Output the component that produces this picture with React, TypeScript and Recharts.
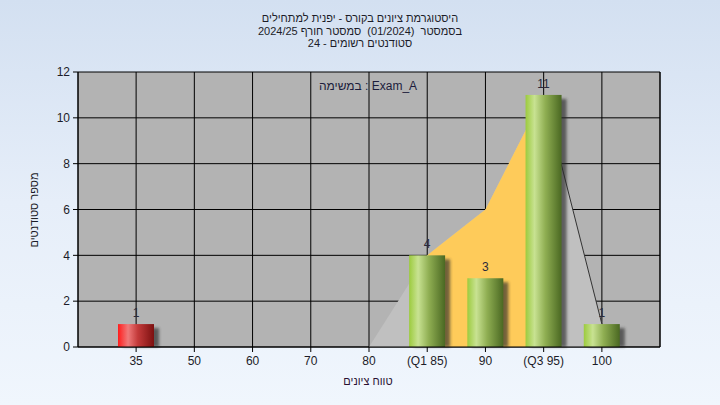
import React from 'react';
import {
  ComposedChart,
  Bar,
  Area,
  XAxis,
  YAxis,
  CartesianGrid,
  LabelList,
} from 'recharts';

const categories = ['35', '50', '60', '70', '80', '(Q1 85)', '90', '(Q3 95)', '100'];
const counts = [1, 0, 0, 0, 0, 4, 3, 11, 1];
const distribution: (number | null)[] = [null, null, null, null, 0, 4, 6, 11, 1];
const interquartile: (number | null)[] = [null, null, null, null, null, 4, 6, 11, null];
const tailLine: (number | null)[] = [null, null, null, null, null, null, null, 11, 1];
const failingCategories = ['35'];
const yTicks = [0, 2, 4, 6, 8, 10, 12];

const titleLines = [
  'היסטוגרמת ציונים בקורס - יפנית למתחילים',
  'בסמסטר  (01/2024)  סמסטר חורף 2024/25',
  'סטודנטים רשומים - 24',
];
const taskLabel = 'במשימה : Exam_A';
const xTitle = 'טווח ציונים';
const yTitle = 'מספר סטודנטים';

const data = categories.map((cat, i) => ({
  cat,
  count: counts[i],
  dist: distribution[i],
  iqr: interquartile[i],
  tail: tailLine[i],
}));

const FONT = 'Liberation Sans, Arial, sans-serif';
const TEXT = '#1c1c28';

function CylinderBar(props: any) {
  const { x, y, width, height, index, payload } = props;
  if (!height || height <= 0) return null;
  const fail = failingCategories.includes(payload?.cat);
  const gid = `barGrad${index}`;
  const fid = `barShadow${index}`;
  const stops = fail
    ? [
        ['0%', '#ff1c1c'],
        ['28%', '#ef7a7a'],
        ['55%', '#c33a3a'],
        ['100%', '#7c1010'],
      ]
    : [
        ['0%', '#9ccb3e'],
        ['25%', '#c8e292'],
        ['55%', '#8fae52'],
        ['100%', '#4a6822'],
      ];
  return (
    <g>
      <defs>
        <linearGradient id={gid} x1="0" y1="0" x2="1" y2="0">
          {stops.map(([o, c]) => (
            <stop key={o} offset={o} stopColor={c} />
          ))}
        </linearGradient>
        <filter id={fid} x="-50%" y="-50%" width="200%" height="200%">
          <feGaussianBlur stdDeviation="1.6" />
        </filter>
      </defs>
      <rect
        x={x + 5}
        y={y + 4}
        width={width}
        height={Math.max(height - 4, 0)}
        fill="#2a2a2a"
        opacity={0.65}
        filter={`url(#${fid})`}
      />
      <rect x={x} y={y} width={width} height={height} fill={`url(#${gid})`} />
    </g>
  );
}

function BarValueLabel(props: any) {
  const { x, y, width, value } = props;
  if (!value) return null;
  return (
    <text
      x={x + width / 2}
      y={y - 7}
      textAnchor="middle"
      fontSize={12}
      fontFamily={FONT}
      fill="#2a2a3a"
    >
      {value}
    </text>
  );
}

export default function App() {
  return (
    <div
      style={{
        position: 'absolute',
        left: 0,
        top: 0,
        width: 720,
        height: 405,
        background: 'linear-gradient(to bottom, #d3e0f1 0%, #e6eef9 50%, #f0f6fd 100%)',
        overflow: 'hidden',
      }}
    >
      <div style={{ position: 'absolute', left: 0, top: 0 }}>
        <ComposedChart
          width={720}
          height={405}
          data={data}
          margin={{ top: 72, right: 0, bottom: 28, left: 0 }}
          barSize={36}
        >
          <CartesianGrid stroke="#000000" fill="#b3b3b3" strokeWidth={1} />
          <XAxis
            dataKey="cat"
            padding={{ left: 29, right: 29 }}
            interval={0}
            height={30}
            tickSize={5}
            tickMargin={4}
            axisLine={{ stroke: '#000' }}
            tickLine={{ stroke: '#000' }}
            tick={{ fill: TEXT, fontSize: 12, fontFamily: FONT }}
          />
          <YAxis
            domain={[0, 12]}
            ticks={yTicks}
            width={78}
            tickSize={5}
            tickMargin={3}
            axisLine={{ stroke: '#000' }}
            tickLine={{ stroke: '#000' }}
            tick={{ fill: TEXT, fontSize: 12, fontFamily: FONT }}
          />
          <YAxis
            yAxisId="r"
            orientation="right"
            domain={[0, 12]}
            ticks={yTicks}
            width={60}
            tickSize={5}
            tickMargin={4}
            axisLine={{ stroke: '#000' }}
            tickLine={{ stroke: '#000' }}
            tick={{ fill: TEXT, fontSize: 12, fontFamily: FONT }}
          />
          <Area
            type="linear"
            dataKey="dist"
            stroke="none"
            fill="#c0c0c0"
            fillOpacity={1}
            isAnimationActive={false}
            dot={false}
            activeDot={false}
          />
          <Area
            type="linear"
            dataKey="iqr"
            stroke="none"
            fill="#fecb5a"
            fillOpacity={1}
            isAnimationActive={false}
            dot={false}
            activeDot={false}
          />
          <Area
            type="linear"
            dataKey="tail"
            stroke="#333333"
            strokeWidth={1}
            fill="none"
            fillOpacity={0}
            dot={false}
            activeDot={false}
            isAnimationActive={false}
          />
          <Bar dataKey="count" shape={CylinderBar} isAnimationActive={false}>
            <LabelList dataKey="count" content={BarValueLabel} />
          </Bar>
        </ComposedChart>
      </div>
      <svg
        width={720}
        height={405}
        style={{ position: 'absolute', left: 0, top: 0, pointerEvents: 'none' }}
      >
        {titleLines.map((t, i) => (
          <text
            key={i}
            x={360}
            y={22 + i * 12.5}
            textAnchor="middle"
            fontSize={11}
            fontFamily={FONT}
            fill={TEXT}
            style={{ whiteSpace: 'pre' }}
          >
            {t}
          </text>
        ))}
        <text
          x={368}
          y={90}
          textAnchor="middle"
          fontSize={12}
          fontFamily={FONT}
          fill="#1c1c3c"
          style={{ whiteSpace: 'pre' }}
        >
          {taskLabel}
        </text>
        <text x={368} y={385} textAnchor="middle" fontSize={11} fontFamily={FONT} fill="#2a1030">
          {xTitle}
        </text>
        <text
          x={0}
          y={0}
          transform="translate(38 210) rotate(-90)"
          textAnchor="middle"
          fontSize={11}
          fontFamily={FONT}
          fill={TEXT}
        >
          {yTitle}
        </text>
      </svg>
    </div>
  );
}
